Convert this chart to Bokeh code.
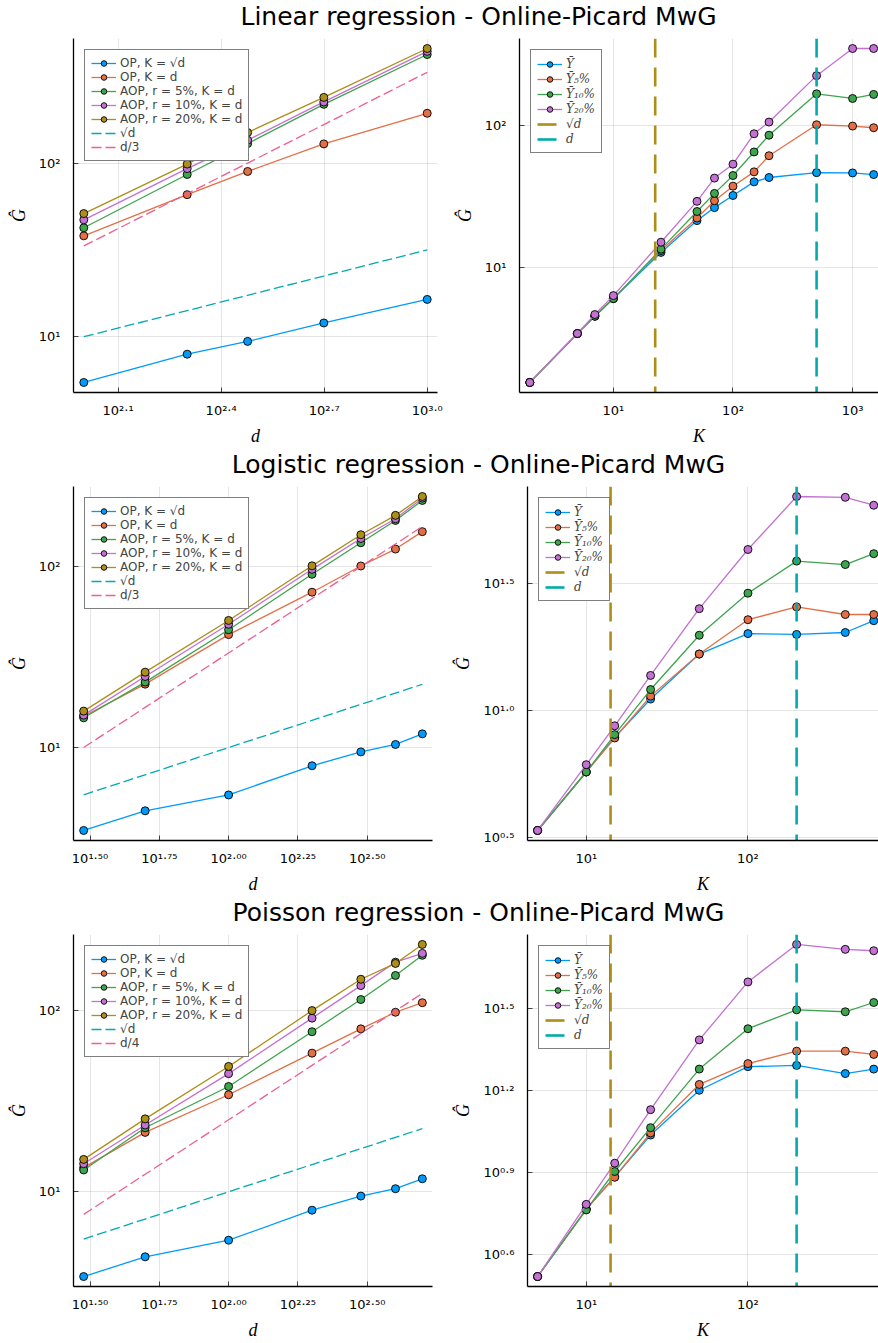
import math
from bokeh.plotting import figure
from bokeh.models import (Range1d, FixedTicker, Label, Legend, LegendItem,
                          CustomJSTickFormatter)
from bokeh.layouts import column, row
from bokeh.embed import file_html
from bokeh.resources import INLINE

# ------------------------------------------------------------------ data
TITLES = ["Linear regression - Online-Picard MwG",
          "Logistic regression - Online-Picard MwG",
          "Poisson regression - Online-Picard MwG"]

LEFT_LABELS = ["OP, K = √d", "OP, K = d", "AOP, r = 5%, K = d",
               "AOP, r = 10%, K = d", "AOP, r = 20%, K = d", "√d"]
RIGHT_LABELS = ["Ȳ", "Ȳ₅%", "Ȳ₁₀%", "Ȳ₂₀%", "√d", "d"]

# Linear regression, G vs d
LIN_D = [100, 200, 300, 500, 1000]
LIN_OP_SQRT = [5.45, 7.93, 9.4, 12.0, 16.4]
LIN_OP_D = [38.1, 65.8, 89.5, 129, 193.6]
LIN_AOP5 = [42.4, 86, 129.5, 218, 422]
LIN_AOP10 = [47.1, 93, 135.5, 225, 440]
LIN_AOP20 = [51.2, 98.7, 150, 239, 457]
LIN_GUIDE_SQRT = [10.0, 14.14, 17.32, 22.36, 31.62]
LIN_GUIDE_LIN = [33.33, 66.67, 100.0, 166.67, 333.33]
LIN_GUIDE_LABEL = "d/3"
LIN_D_XTICKS = [2.1, 2.4, 2.7, 3.0]
LIN_D_XTICK_TEXT = ["2.1", "2.4", "2.7", "3.0"]
LIN_D_YTICKS = [1, 2]
LIN_D_YTICK_TEXT = ["1", "2"]

# Linear regression, G vs K
LIN_K = [2, 5, 7, 10, 25, 50, 70, 100, 150, 200, 500, 1000, 1500]
LIN_YBAR = [1.57, 3.46, 4.57, 6.08, 12.8, 21.4, 26.4, 32.1, 40.0, 42.9, 46.4, 46.2, 45.0]
LIN_Y5 = [1.57, 3.46, 4.6, 6.1, 13.2, 22.3, 29.5, 37.3, 47.0, 61.0, 100.5, 98.4, 95.8]
LIN_Y10 = [1.57, 3.46, 4.57, 6.08, 13.5, 24.8, 33.2, 44.3, 64.8, 84.9, 165.6, 153.6, 164]
LIN_Y20 = [1.57, 3.46, 4.7, 6.38, 15.1, 29.2, 42.5, 53.2, 86.9, 105, 222, 344, 344]
LIN_VSQRT = 22.36
LIN_VDIM = 500
LIN_K_XTICKS = [1, 2, 3]
LIN_K_XTICK_TEXT = ["1", "2", "3"]
LIN_K_YTICKS = [1, 2]
LIN_K_YTICK_TEXT = ["1", "2"]

# Logistic regression, G vs d
LOG_D = [30, 50, 100, 200, 300, 400, 500]
LOG_OP_SQRT = [3.48, 4.47, 5.47, 7.93, 9.46, 10.4, 11.9]
LOG_OP_D = [14.9, 22.4, 42.1, 72.2, 100.8, 125, 156]
LOG_AOP5 = [14.6, 23.0, 44.8, 90.7, 135.5, 180, 232]
LOG_AOP10 = [15.1, 24.7, 48.0, 96.6, 143, 184, 239]
LOG_AOP20 = [15.9, 26.1, 50.4, 101, 150, 192, 244]
LOG_GUIDE_SQRT = [5.48, 7.07, 10.0, 14.14, 17.32, 20.0, 22.36]
LOG_GUIDE_LIN = [10.0, 16.67, 33.33, 66.67, 100.0, 133.33, 166.67]
LOG_GUIDE_LABEL = "d/3"
LOG_D_XTICKS = [1.5, 1.75, 2.0, 2.25, 2.5]
LOG_D_XTICK_TEXT = ["1.50", "1.75", "2.00", "2.25", "2.50"]
LOG_D_YTICKS = [1, 2]
LOG_D_YTICK_TEXT = ["1", "2"]

# Logistic regression, G vs K
LOG_K = [5, 10, 15, 25, 50, 100, 200, 400, 600]
LOG_YBAR = [3.37, 5.73, 7.85, 11.1, 16.7, 20.1, 19.95, 20.3, 22.6]
LOG_Y5 = [3.37, 5.73, 7.8, 11.4, 16.7, 22.8, 25.6, 23.9, 23.9]
LOG_Y10 = [3.37, 5.73, 8.04, 12.1, 19.8, 29.0, 38.8, 37.6, 41.5]
LOG_Y20 = [3.37, 6.12, 8.71, 13.75, 25.2, 43.1, 69.7, 69.2, 64.4]
LOG_VSQRT = 14.14
LOG_VDIM = 200
LOG_K_XTICKS = [1, 2]
LOG_K_XTICK_TEXT = ["1", "2"]
LOG_K_YTICKS = [0.5, 1.0, 1.5]
LOG_K_YTICK_TEXT = ["0.5", "1.0", "1.5"]

# Poisson regression, G vs d
POI_D = [30, 50, 100, 200, 300, 400, 500]
POI_OP_SQRT = [3.40, 4.37, 5.40, 7.91, 9.47, 10.4, 11.8]
POI_OP_D = [13.6, 21.3, 34.4, 58.4, 79.6, 98.3, 111]
POI_AOP5 = [13.2, 22.6, 38.2, 76.7, 115.6, 157, 203]
POI_AOP10 = [14.3, 23.4, 45.0, 91.2, 138, 186, 208]
POI_AOP20 = [15.1, 25.3, 49.3, 100.4, 149.6, 183, 233]
POI_GUIDE_SQRT = [5.48, 7.07, 10.0, 14.14, 17.32, 20.0, 22.36]
POI_GUIDE_LIN = [7.5, 12.5, 25.0, 50.0, 75.0, 100.0, 125.0]
POI_GUIDE_LABEL = "d/4"
POI_D_XTICKS = [1.5, 1.75, 2.0, 2.25, 2.5]
POI_D_XTICK_TEXT = ["1.50", "1.75", "2.00", "2.25", "2.50"]
POI_D_YTICKS = [1, 2]
POI_D_YTICK_TEXT = ["1", "2"]

# Poisson regression, G vs K
POI_K = [5, 10, 15, 25, 50, 100, 200, 400, 600]
POI_YBAR = [3.31, 5.84, 7.67, 10.9, 15.9, 19.4, 19.6, 18.3, 19.0]
POI_Y5 = [3.31, 5.84, 7.64, 11.1, 16.7, 19.9, 22.1, 22.1, 21.5]
POI_Y10 = [3.31, 5.80, 8.02, 11.6, 19.0, 26.7, 31.3, 30.8, 33.3]
POI_Y20 = [3.31, 6.08, 8.60, 13.5, 24.3, 39.6, 54.3, 52.1, 51.5]
POI_VSQRT = 14.14
POI_VDIM = 200
POI_K_XTICKS = [1, 2]
POI_K_XTICK_TEXT = ["1", "2"]
POI_K_YTICKS = [0.6, 0.9, 1.2, 1.5]
POI_K_YTICK_TEXT = ["0.6", "0.9", "1.2", "1.5"]

# ------------------------------------------------------------------ style
BLUE, ORANGE, GREEN, PURPLE = "#009AFA", "#E36F47", "#3EA44E", "#C371D2"
GOLD, TEAL, PINK = "#AC8E18", "#00AAAE", "#ED5E93"
SERIES_COLORS = [BLUE, ORANGE, GREEN, PURPLE, GOLD]

LEFT_W, RIGHT_W = 450, 428
TITLE_H = 31
MB_TOP = 7
FRAME_H = 355
ROW_H = [448, 448, 446]
RIGHT_CROP = 0.985
LW = 1.3
MSIZE = 8
SANS = "DejaVu Sans"
MATH = "Liberation Serif"
SUP = {"0": "⁰", "1": "¹", "2": "²", "3": "³", "4": "⁴", "5": "⁵", "6": "⁶",
       "7": "⁷", "8": "⁸", "9": "⁹", ".": "·", "-": "⁻"}


def jl_limits(vals, crop=1.0):
    lo = min(math.log10(v) for v in vals)
    hi = max(math.log10(v) for v in vals)
    pad = 0.03 * (hi - lo)
    lo, hi = lo - pad, hi + pad
    hi = lo + (hi - lo) * crop
    return 10 ** lo, 10 ** hi


def tick_formatter(exps, texts):
    vals = [10 ** e for e in exps]
    labs = ["10" + "".join(SUP[c] for c in t) for t in texts]
    return CustomJSTickFormatter(args=dict(vals=vals, labs=labs), code="""
        let best = 0, bd = Infinity;
        for (let i = 0; i < vals.length; i++) {
            const dd = Math.abs(Math.log10(tick) - Math.log10(vals[i]));
            if (dd < bd) { bd = dd; best = i; }
        }
        return labs[best];
    """)


def style_axes(p, xt, xtt, yt, ytt, xlabel):
    p.outline_line_color = None
    for ax, ticks, texts in ((p.xaxis[0], xt, xtt), (p.yaxis[0], yt, ytt)):
        ax.ticker = FixedTicker(ticks=[10 ** e for e in ticks])
        ax.formatter = tick_formatter(ticks, texts)
        ax.major_label_text_font = SANS
        ax.major_label_text_font_size = "13px"
        ax.major_label_text_color = "black"
        ax.major_tick_in = 5
        ax.major_tick_out = 0
        ax.minor_tick_line_color = None
        ax.axis_line_color = "black"
        ax.axis_line_width = 1.3
        ax.major_tick_line_color = "black"
        ax.major_tick_line_alpha = 0.7
        ax.axis_label_text_font = MATH
        ax.axis_label_text_font_style = "italic"
        ax.axis_label_text_font_size = "18px"
        ax.axis_label_text_color = "black"
    p.xaxis[0].axis_label = xlabel
    p.yaxis[0].axis_label = "Ĝ"
    p.xaxis[0].major_label_standoff = 10
    p.xaxis[0].axis_label_standoff = 5
    p.yaxis[0].major_label_standoff = 13
    p.yaxis[0].axis_label_standoff = 7
    for g in (p.xgrid[0], p.ygrid[0]):
        g.grid_line_color = "black"
        g.grid_line_alpha = 0.1
        g.grid_line_width = 1


def make_legend(items, font, style, label_h):
    return Legend(items=items, location="top_left", margin=11, padding=6,
                  spacing=0, label_standoff=4, glyph_width=25, glyph_height=14,
                  label_height=label_h, label_text_font=font,
                  label_text_font_style=style, label_text_font_size="12px",
                  border_line_color="black", border_line_width=1,
                  background_fill_color="white", background_fill_alpha=1.0)


def left_panel(d, series, g_sqrt, g_lin, g_label, xt, xtt, yt, ytt, mb_right, h):
    ally = [v for s in series for v in s] + list(g_sqrt) + list(g_lin)
    p = figure(width=LEFT_W, height=h, x_axis_type="log", y_axis_type="log",
               x_range=Range1d(*jl_limits(d)), y_range=Range1d(*jl_limits(ally)),
               output_backend="svg", toolbar_location=None,
               min_border_left=73, min_border_right=mb_right,
               min_border_top=MB_TOP, min_border_bottom=h - MB_TOP - FRAME_H)
    style_axes(p, xt, xtt, yt, ytt, "d")
    items = []
    for ys, col, lab in zip(series, SERIES_COLORS, LEFT_LABELS[:5]):
        r1 = p.line(d, ys, line_color=col, line_width=LW)
        r2 = p.scatter(d, ys, size=MSIZE, fill_color=col, line_color="black",
                       line_width=0.9)
        items.append(LegendItem(label=lab, renderers=[r1, r2]))
    for ys, col, lab in ((g_sqrt, TEAL, LEFT_LABELS[5]), (g_lin, PINK, g_label)):
        r = p.line(d, ys, line_color=col, line_width=LW, line_dash="10 4")
        items.append(LegendItem(label=lab, renderers=[r]))
    p.add_layout(make_legend(items, SANS, "normal", 14))
    return p


def right_panel(k, series, vsqrt, vdim, xt, xtt, yt, ytt, mb_left, h):
    ally = [v for s in series for v in s]
    yr = jl_limits(ally)
    p = figure(width=RIGHT_W, height=h, x_axis_type="log", y_axis_type="log",
               x_range=Range1d(*jl_limits(k, RIGHT_CROP)), y_range=Range1d(*yr),
               output_backend="svg", toolbar_location=None,
               min_border_left=mb_left, min_border_right=0,
               min_border_top=MB_TOP, min_border_bottom=h - MB_TOP - FRAME_H)
    style_axes(p, xt, xtt, yt, ytt, "K")
    items = []
    for ys, col, lab in zip(series, SERIES_COLORS[:4], RIGHT_LABELS[:4]):
        r1 = p.line(k, ys, line_color=col, line_width=LW)
        r2 = p.scatter(k, ys, size=MSIZE, fill_color=col, line_color="black",
                       line_width=0.9)
        items.append(LegendItem(label=lab, renderers=[r1, r2]))
    for v, col, lab in ((vsqrt, GOLD, RIGHT_LABELS[4]), (vdim, TEAL, RIGHT_LABELS[5])):
        r = p.line([v, v], [yr[1], yr[0]], line_color=col, line_width=2.6,
                   line_dash="19 10")
        items.append(LegendItem(label=lab, renderers=[r]))
    p.add_layout(make_legend(items, "DejaVu Serif", "italic", 15))
    return p


def title_fig(text):
    p = figure(width=LEFT_W + RIGHT_W, height=TITLE_H, x_range=Range1d(0, 1),
               y_range=Range1d(0, 1), output_backend="svg", toolbar_location=None,
               min_border=0, x_axis_location=None, y_axis_location=None)
    p.outline_line_color = None
    p.xgrid.visible = False
    p.ygrid.visible = False
    p.add_layout(Label(x=478, y=TITLE_H - 16, x_units="screen", y_units="screen",
                       text=text, text_align="center", text_baseline="middle",
                       text_font=SANS, text_font_size="25px", text_color="black"))
    return p


rows = []
h1, h2, h3 = (r - TITLE_H for r in ROW_H)
rows.append(title_fig(TITLES[0]))
rows.append(row(
    left_panel(LIN_D, [LIN_OP_SQRT, LIN_OP_D, LIN_AOP5, LIN_AOP10, LIN_AOP20],
               LIN_GUIDE_SQRT, LIN_GUIDE_LIN, LIN_GUIDE_LABEL,
               LIN_D_XTICKS, LIN_D_XTICK_TEXT, LIN_D_YTICKS, LIN_D_YTICK_TEXT, 13, h1),
    right_panel(LIN_K, [LIN_YBAR, LIN_Y5, LIN_Y10, LIN_Y20], LIN_VSQRT, LIN_VDIM,
                LIN_K_XTICKS, LIN_K_XTICK_TEXT, LIN_K_YTICKS, LIN_K_YTICK_TEXT, 69, h1)))
rows.append(title_fig(TITLES[1]))
rows.append(row(
    left_panel(LOG_D, [LOG_OP_SQRT, LOG_OP_D, LOG_AOP5, LOG_AOP10, LOG_AOP20],
               LOG_GUIDE_SQRT, LOG_GUIDE_LIN, LOG_GUIDE_LABEL,
               LOG_D_XTICKS, LOG_D_XTICK_TEXT, LOG_D_YTICKS, LOG_D_YTICK_TEXT, 18, h2),
    right_panel(LOG_K, [LOG_YBAR, LOG_Y5, LOG_Y10, LOG_Y20], LOG_VSQRT, LOG_VDIM,
                LOG_K_XTICKS, LOG_K_XTICK_TEXT, LOG_K_YTICKS, LOG_K_YTICK_TEXT, 75, h2)))
rows.append(title_fig(TITLES[2]))
rows.append(row(
    left_panel(POI_D, [POI_OP_SQRT, POI_OP_D, POI_AOP5, POI_AOP10, POI_AOP20],
               POI_GUIDE_SQRT, POI_GUIDE_LIN, POI_GUIDE_LABEL,
               POI_D_XTICKS, POI_D_XTICK_TEXT, POI_D_YTICKS, POI_D_YTICK_TEXT, 18, h3),
    right_panel(POI_K, [POI_YBAR, POI_Y5, POI_Y10, POI_Y20], POI_VSQRT, POI_VDIM,
                POI_K_XTICKS, POI_K_XTICK_TEXT, POI_K_YTICKS, POI_K_YTICK_TEXT, 75, h3)))

layout = column(*rows)
open("out.html", "w").write(file_html(layout, INLINE))
